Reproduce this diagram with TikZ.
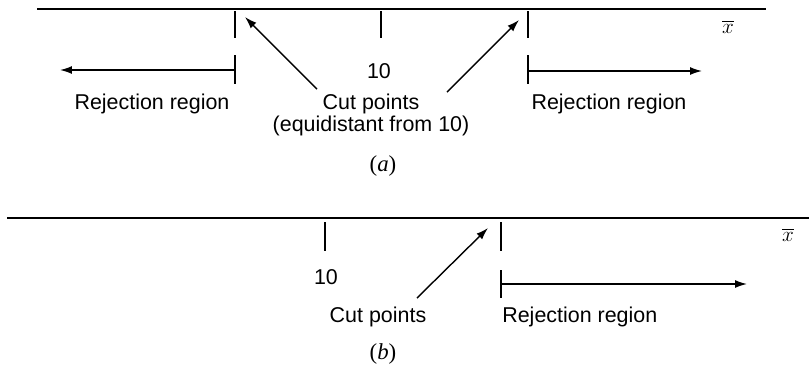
\documentclass[tikz,border=0pt]{standalone}
\usepackage{fontspec}
\setmainfont{Liberation Sans}
\newfontfamily\capfont{Liberation Serif}
\usepackage{amsmath}
\usetikzlibrary{arrows.meta, positioning}

\begin{document}
\begin{tikzpicture}[x=0.02cm, y=-0.02cm, font=\fontsize{12.2}{12.5}\selectfont]
    \tikzset{
        axisline/.style={line width=1.6pt},
        tickline/.style={line width=0.8pt},
        pointer/.style={line width=0.8pt, -{Latex[length=2.4mm, width=1.6mm]}},
        lbl/.style={inner sep=0pt, align=center},
        caplbl/.style={inner sep=0pt, font=\capfont\fontsize{13}{13}\selectfont}
    }
    \useasboundingbox (0,0) rectangle (809,370);
    % (a) two-sided test
    \coordinate (a0) at (37,9);
    \coordinate (a1) at (766,9);
    \draw[axisline] (a0) -- (a1);
    \foreach \name/\xx in {lo/235, mid/381, hi/528} {
        \coordinate (a\name t) at (\xx,11);
        \coordinate (a\name b) at (\xx,38);
        \draw[tickline] (a\name t) -- (a\name b);
    }
    \coordinate (alot) at (235,55);
    \coordinate (alob) at (235,84);
    \coordinate (ahit) at (528,55);
    \coordinate (ahib) at (528,84);
    \draw[tickline] (alot) -- (alob);
    \draw[tickline] (ahit) -- (ahib);
    \coordinate (alostart) at (235,70);
    \coordinate (aloend) at (60,70);
    \coordinate (histart) at (528,71);
    \coordinate (hiend) at (702,71);
    \draw[pointer] (alostart) -- (aloend);
    \draw[pointer] (histart) -- (hiend);
    \node[lbl] (aten) at (379,71) {10};
    \node[lbl] (arejl) at (152,104) {Rejection region};
    \node[lbl] (arejr) at (609,104) {Rejection region};
    \node[lbl] (acut) at (371,115) {Cut points\\(equidistant from 10)};
    \coordinate (acuttipl) at (245,17);
    \coordinate (acuttipr) at (519,20);
    \coordinate (acutl) at (317,89);
    \coordinate (acutr) at (447,92);
    \draw[pointer] (acutl) -- (acuttipl);
    \draw[pointer] (acutr) -- (acuttipr);
    \node[caplbl] (axbar) at (728,27) {$\overline{x}$};
    \node[caplbl] (acap) at (383,166) {(\textit{a})};

    % (b) one-sided test
    \coordinate (b0) at (7,218);
    \coordinate (b1) at (809,218);
    \draw[axisline] (b0) -- (b1);
    \coordinate (bmidt) at (325,222);
    \coordinate (bmidb) at (325,251);
    \coordinate (bhit) at (501,222);
    \coordinate (bhib) at (501,251);
    \draw[tickline] (bmidt) -- (bmidb);
    \draw[tickline] (bhit) -- (bhib);
    \coordinate (bhit2) at (501,270);
    \coordinate (bhib2) at (501,298);
    \draw[tickline] (bhit2) -- (bhib2);
    \coordinate (bhistart) at (501,284);
    \coordinate (bhiend) at (747,284);
    \draw[pointer] (bhistart) -- (bhiend);
    \node[lbl] (bten) at (326,277) {10};
    \node[lbl] (bcut) at (378,317) {Cut points};
    \node[lbl, anchor=west] (brej) at (502,317) {Rejection region};
    \coordinate (bcutfrom) at (417,298);
    \coordinate (bcuttip) at (488,228);
    \draw[pointer] (bcutfrom) -- (bcuttip);
    \node[caplbl] (bxbar) at (788,235) {$\overline{x}$};
    \node[caplbl] (bcap) at (383,354) {(\textit{b})};
\end{tikzpicture}
\end{document}
